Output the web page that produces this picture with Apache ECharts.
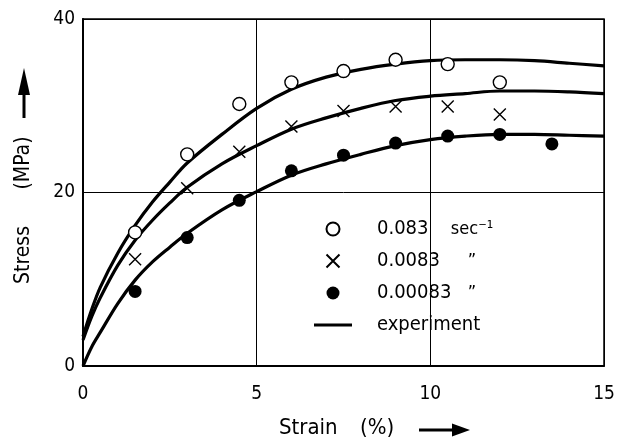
<!DOCTYPE html>
<html lang="en">
<head>
    <meta charset="UTF-8">
    <title>Stress vs Strain</title>
    <script src="https://cdn.jsdelivr.net/npm/echarts@6/dist/echarts.min.js"></script>
    <style type="text/css">
        html, body {
            margin: 0;
            width: 100%;
            height: 100%;
            background: #fff;
        }
        #chart {
            width: 618px;
            height: 440px;
        }
    </style>
</head>
<body>
    <div id="chart"></div>
    <script type="text/javascript">
        // measured points (strain %, stress MPa)
        var strainPts = [1.5, 3, 4.5, 6, 7.5, 9, 10.5, 12, 13.5];
        var rateFast = [15.4, 24.4, 30.2, 32.7, 34.0, 35.3, 34.8, 32.7];
        var rateMid = [12.3, 20.5, 24.7, 27.6, 29.4, 29.9, 29.9, 29.0];
        var rateSlow = [8.6, 14.8, 19.1, 22.5, 24.3, 25.7, 26.5, 26.7, 25.6];

        // experiment curves
        var curveX = [0, 0.25, 0.5, 1, 1.5, 2, 2.5, 3, 4, 5, 6, 7, 8, 9, 10, 11, 12, 13, 14, 15];
        var curveFast = [3.4, 6.5, 9.1, 13.0, 16.2, 18.9, 21.2, 23.4, 26.7, 29.7, 31.9, 33.3, 34.2, 34.8, 35.2, 35.3, 35.3, 35.2, 34.9, 34.6];
        var curveMid = [3.0, 5.7, 7.9, 11.6, 14.5, 16.8, 18.8, 20.6, 23.3, 25.4, 27.3, 28.6, 29.7, 30.6, 31.1, 31.4, 31.7, 31.7, 31.6, 31.4];
        var curveSlow = [0, 2.2, 3.9, 7.2, 9.9, 12.0, 13.7, 15.3, 18.0, 20.1, 22.0, 23.3, 24.4, 25.4, 26.1, 26.5, 26.7, 26.7, 26.6, 26.5];

        var legendNames = ['0.083', '0.0083', '0.00083', 'experiment'];
        var legendSuffix = ['sec\u207B\u00B9', '\u201D', '\u201D', ''];

        var xTicks = [0, 5, 10, 15];
        var yTicks = [0, 20, 40];

        function pairs(xs, ys) {
            var out = [];
            for (var i = 0; i < ys.length; i++) {
                out.push([xs[i], ys[i]]);
            }
            return out;
        }

        var FONT = '"DejaVu Sans Condensed", "DejaVu Sans"';
        var chart = echarts.init(document.getElementById('chart'));

        var curveStyle = {
            type: 'line',
            name: 'experiment',
            smooth: 0.35,
            symbol: 'none',
            lineStyle: { color: '#000', width: 3.2 },
            itemStyle: { color: '#000' },
            z: 2
        };

        var option = {
            backgroundColor: '#fff',
            animation: false,
            grid: {
                left: 83,
                right: 14,
                top: 19,
                bottom: 74,
                show: true,
                borderColor: '#000',
                borderWidth: 1.5
            },
            xAxis: {
                type: 'value',
                min: xTicks[0],
                max: xTicks[xTicks.length - 1],
                interval: 5,
                axisLine: { lineStyle: { color: '#000', width: 2 } },
                axisTick: { show: false },
                splitLine: { lineStyle: { color: '#000', width: 1 } },
                axisLabel: { color: '#000', fontFamily: FONT, fontSize: 19, margin: 19 }
            },
            yAxis: {
                type: 'value',
                min: yTicks[0],
                max: yTicks[yTicks.length - 1],
                interval: 20,
                axisLine: { lineStyle: { color: '#000', width: 2 } },
                axisTick: { show: false },
                splitLine: { lineStyle: { color: '#000', width: 1 } },
                axisLabel: { color: '#000', fontFamily: FONT, fontSize: 19, margin: 8 }
            },
            legend: {
                orient: 'vertical',
                left: 309,
                top: 214,
                itemWidth: 38,
                itemHeight: 13,
                itemGap: 12,
                data: [
                    { name: legendNames[0] },
                    { name: legendNames[1] },
                    { name: legendNames[2] },
                    { name: legendNames[3], icon: 'path://M0,0H38V3H0Z' }
                ],
                formatter: function (name) {
                    var s = legendSuffix[legendNames.indexOf(name)];
                    return '{a|' + name + '}' + (s ? '{b|' + s + '}' : '');
                },
                textStyle: {
                    color: '#000',
                    fontFamily: FONT,
                    fontSize: 20,
                    rich: {
                        a: { fontFamily: FONT, fontSize: 20, lineHeight: 21, color: '#000', width: 72, padding: [0, 0, 0, 20] },
                        b: { fontFamily: FONT, fontSize: 18, lineHeight: 21, color: '#000', width: 46, align: 'center' }
                    }
                }
            },
            graphic: [
                {
                    type: 'text',
                    left: 279,
                    top: 417,
                    style: { text: 'Strain', font: '22px ' + FONT, fill: '#000' }
                },
                {
                    type: 'text',
                    left: 360,
                    top: 417,
                    style: { text: '(%)', font: '22px ' + FONT, fill: '#000' }
                },
                {
                    type: 'line',
                    shape: { x1: 419, y1: 430, x2: 456, y2: 430 },
                    style: { stroke: '#000', lineWidth: 3 }
                },
                {
                    type: 'polygon',
                    shape: { points: [[452, 423.5], [452, 436.5], [470, 430]] },
                    style: { fill: '#000' }
                },
                {
                    type: 'text',
                    x: 24,
                    y: 255,
                    rotation: Math.PI / 2,
                    style: { text: 'Stress', font: '21px ' + FONT, fill: '#000', align: 'center', verticalAlign: 'middle' }
                },
                {
                    type: 'text',
                    x: 24,
                    y: 163,
                    rotation: Math.PI / 2,
                    style: { text: '(MPa)', font: '21px ' + FONT, fill: '#000', align: 'center', verticalAlign: 'middle' }
                },
                {
                    type: 'line',
                    shape: { x1: 24, y1: 118, x2: 24, y2: 90 },
                    style: { stroke: '#000', lineWidth: 3 }
                },
                {
                    type: 'polygon',
                    shape: { points: [[18, 95], [30, 95], [24, 68]] },
                    style: { fill: '#000' }
                }
            ],
            series: [
                Object.assign({ data: pairs(curveX, curveFast) }, curveStyle),
                Object.assign({ data: pairs(curveX, curveMid) }, curveStyle),
                Object.assign({ data: pairs(curveX, curveSlow) }, curveStyle),
                {
                    name: '0.083',
                    type: 'scatter',
                    symbol: 'circle',
                    symbolSize: 13,
                    itemStyle: { color: '#fff', borderColor: '#000', borderWidth: 1.4, opacity: 1 },
                    data: pairs(strainPts, rateFast),
                    z: 3
                },
                {
                    name: '0.0083',
                    type: 'scatter',
                    symbol: 'path://M0,0L10,10M10,0L0,10',
                    symbolSize: 12,
                    itemStyle: { color: 'rgba(0,0,0,0)', borderColor: '#000', borderWidth: 1.4, opacity: 1 },
                    data: pairs(strainPts, rateMid),
                    z: 3
                },
                {
                    name: '0.00083',
                    type: 'scatter',
                    symbol: 'circle',
                    symbolSize: 13,
                    itemStyle: { color: '#000', opacity: 1 },
                    data: pairs(strainPts, rateSlow),
                    z: 3
                }
            ]
        };

        chart.setOption(option);
    </script>
</body>
</html>
